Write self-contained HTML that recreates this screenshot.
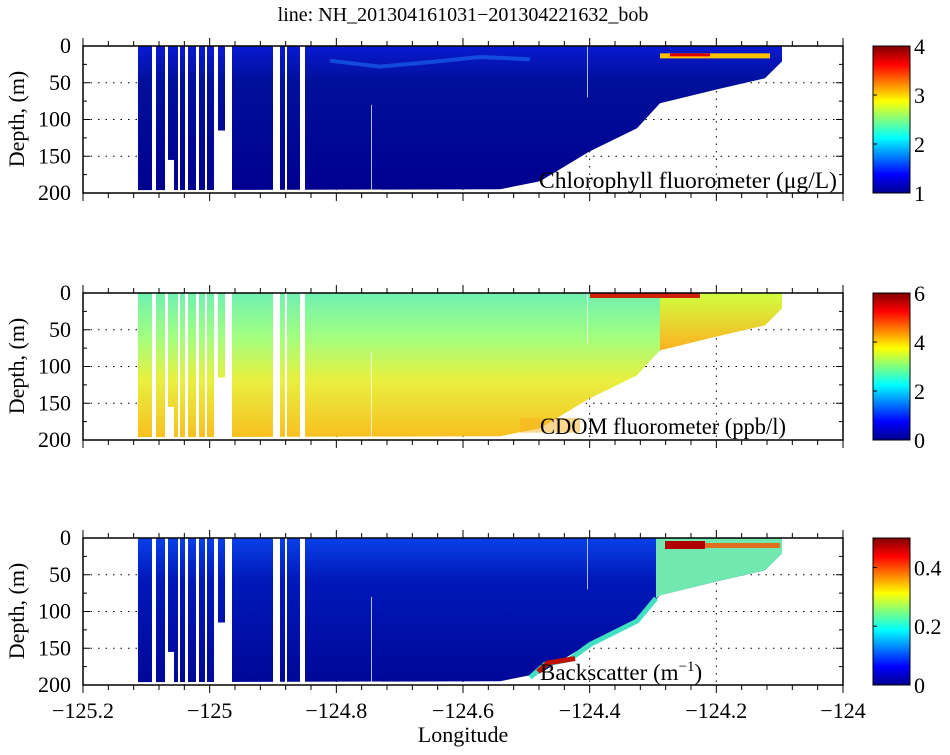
<!DOCTYPE html>
<html><head><meta charset="utf-8"><style>
body{margin:0;background:#fff;}
svg text{font-family:"Liberation Serif",serif;fill:#000;}
</style></head><body>
<svg id="s" width="950" height="750" xmlns="http://www.w3.org/2000/svg">
<defs>
<linearGradient id="jet" x1="0" y1="1" x2="0" y2="0">
<stop offset="0" stop-color="#00008f"/><stop offset="0.125" stop-color="#0000ff"/>
<stop offset="0.375" stop-color="#00ffff"/><stop offset="0.625" stop-color="#ffff00"/>
<stop offset="0.875" stop-color="#ff0000"/><stop offset="1" stop-color="#800000"/>
</linearGradient>
<linearGradient id="g1" x1="0" y1="0" x2="0" y2="1">
<stop offset="0" stop-color="#0a1ad0"/><stop offset="0.25" stop-color="#00109a"/><stop offset="1" stop-color="#00008f"/></linearGradient>
<linearGradient id="g2" x1="0" y1="0" x2="0" y2="1">
<stop offset="0" stop-color="#70f0b0"/><stop offset="0.3" stop-color="#a0ff80"/><stop offset="0.6" stop-color="#e8f040"/><stop offset="1" stop-color="#f8c020"/></linearGradient>
<linearGradient id="g2b" x1="0" y1="0" x2="0" y2="1">
<stop offset="0" stop-color="#d0ff40"/><stop offset="1" stop-color="#fcb020"/></linearGradient>
<linearGradient id="g3" x1="0" y1="0" x2="0" y2="1">
<stop offset="0" stop-color="#0840e8"/><stop offset="0.3" stop-color="#0018b8"/><stop offset="1" stop-color="#000898"/></linearGradient>
</defs>
</svg>
<script>
const s=document.getElementById('s');
let h='';
const X=v=>83+(v+125.2)/1.2*760;
const bnd=[[500,195],[540,184],[589,144],[637,112],[660,78],[717,59],[765,44],[782,21],[782,0]];
function panel(y0,fill,kind){
  const Y=d=>y0+d/200*147;
  let pts=[[138,0],[138,196]].concat(bnd).map(p=>p[0]+','+Y(p[1]).toFixed(1)).join(' ');
  [50,100,150].forEach(d=>h+=`<line x1="83" x2="843" y1="${Y(d)}" y2="${Y(d)}" stroke="#000" stroke-dasharray="1.5,6"/>`);
  [-125,-124.8,-124.6,-124.4,-124.2].forEach(v=>h+=`<line x1="${X(v)}" x2="${X(v)}" y1="${y0}" y2="${y0+147}" stroke="#000" stroke-dasharray="1.5,6"/>`);
  h+=`<polygon points="${pts}" fill="url(#${fill})"/>`;
  if(kind==2){
    h+=`<polygon points="${[[660,0],[660,78],[717,59],[765,44],[782,21],[782,0]].map(p=>p[0]+','+Y(p[1])).join(' ')}" fill="url(#g2b)"/>`;
    h+=`<rect x="590" y="${y0}" width="110" height="5" fill="#d02000"/>`;
    h+=`<rect x="520" y="${Y(170)}" width="60" height="${Y(190)-Y(170)}" fill="#f8b020" opacity="0.5"/>`;
  }
  if(kind==3){
    h+=`<polygon points="${[[656,0],[656,82],[660,78],[717,59],[765,44],[782,21],[782,0]].map(p=>p[0]+','+Y(p[1])).join(' ')}" fill="#70e8b0"/>`;
    h+=`<rect x="665" y="${y0+3}" width="40" height="8" fill="#b00000"/><rect x="705" y="${y0+5}" width="75" height="5" fill="#e07020"/>`;
    h+=`<polyline points="530,${Y(190)} 545,${Y(172)} 570,${Y(165)} 590,${Y(145)} 637,${Y(113)} 656,${Y(82)}" fill="none" stroke="#40e0c0" stroke-width="5"/>`;
    h+=`<polyline points="538,${Y(182)} 548,${Y(170)} 575,${Y(164)}" fill="none" stroke="#c01000" stroke-width="5"/>`;
  }
  if(kind==1){
    h+=`<polyline points="330,${Y(20)} 380,${Y(28)} 430,${Y(22)} 480,${Y(15)} 530,${Y(18)}" fill="none" stroke="#2080ff" stroke-width="4" opacity="0.5"/>`;
    h+=`<rect x="660" y="${Y(10)}" width="110" height="5" fill="#ffc000"/><rect x="670" y="${Y(10)}" width="40" height="3" fill="#e00000"/>`;
  }
  [[152,156],[165,168],[178,180],[185,188],[196,199],[205,207],[214,218],[225,232],[273,280],[285,287],[300,305]].forEach(g=>h+=`<rect x="${g[0]}" y="${y0}" width="${g[1]-g[0]}" height="148" fill="#fff"/>`);
  h+=`<rect x="371" y="${Y(80)}" width="1" height="${Y(200)-Y(80)}" fill="#fff" opacity="0.7"/>`;
  h+=`<rect x="587" y="${Y(0)}" width="1" height="${Y(70)-Y(0)}" fill="#fff" opacity="0.7"/>`;
  h+=`<rect x="218" y="${Y(115)}" width="7" height="${Y(200)-Y(115)}" fill="#fff"/>`;
  h+=`<rect x="168" y="${Y(155)}" width="6" height="${Y(200)-Y(155)}" fill="#fff"/>`;
  h+=`<rect x="83" y="${y0}" width="760" height="147" fill="none" stroke="#000" stroke-width="1.5"/>`;
  for(let i=0;i<=30;i++){const x=83+i*760/30,maj=i%5==0,l=maj?8:5;
    h+=`<line x1="${x}" x2="${x}" y1="${y0-l}" y2="${y0}" stroke="#000"/><line x1="${x}" x2="${x}" y1="${y0+147}" y2="${y0+147+l}" stroke="#000"/>`;}
  for(let d=0;d<=200;d+=25){const y=Y(d),l=d%50==0?7:4;
    h+=`<line x1="83" x2="${83+l}" y1="${y}" y2="${y}" stroke="#000"/><line x1="${843-l}" x2="843" y1="${y}" y2="${y}" stroke="#000"/>`;
    if(d%50==0)h+=`<text x="71" y="${y+7}" font-size="22" text-anchor="end">${d}</text>`;}
  h+=`<text transform="translate(24,${y0+73}) rotate(-90)" font-size="22" text-anchor="middle">Depth, (m)</text>`;
  h+=`<rect x="873" y="${y0}" width="37" height="147" fill="url(#jet)" stroke="#000"/>`;
}
panel(46,'g1',1);panel(293,'g2',2);panel(538,'g3',3);
const cb=(y0,vals)=>vals.forEach(v=>{const y=y0+147*(1-v[0]);h+=`<text x="914" y="${y+8}" font-size="22">${v[1]}</text><line x1="873" x2="877" y1="${y}" y2="${y}" stroke="#000"/>`;});
cb(46,[[1,'4'],[2/3,'3'],[1/3,'2'],[0,'1']]);cb(293,[[1,'6'],[2/3,'4'],[1/3,'2'],[0,'0']]);cb(538,[[0.8,'0.4'],[0.4,'0.2'],[0,'0']]);
h+=`<text x="539" y="188" font-size="23" textLength="298" lengthAdjust="spacingAndGlyphs">Chlorophyll fluorometer (μg/L)</text>`;
h+=`<text x="540" y="434" font-size="23" textLength="246" lengthAdjust="spacingAndGlyphs">CDOM fluorometer (ppb/l)</text>`;
h+=`<text x="540" y="680" font-size="23">Backscatter (m<tspan dy="-9" font-size="15">−1</tspan><tspan dy="9">)</tspan></text>`;
h+=`<text x="463" y="21" font-size="20" text-anchor="middle">line: NH_201304161031−201304221632_bob</text>`;
[-125.2,-125,-124.8,-124.6,-124.4,-124.2,-124].forEach(v=>h+=`<text x="${X(v)}" y="718" font-size="22" text-anchor="middle">${String(v).replace('-','−')}</text>`);
h+=`<text x="463" y="742" font-size="22" text-anchor="middle">Longitude</text>`;
s.insertAdjacentHTML('beforeend',h);
</script>
</body></html>
